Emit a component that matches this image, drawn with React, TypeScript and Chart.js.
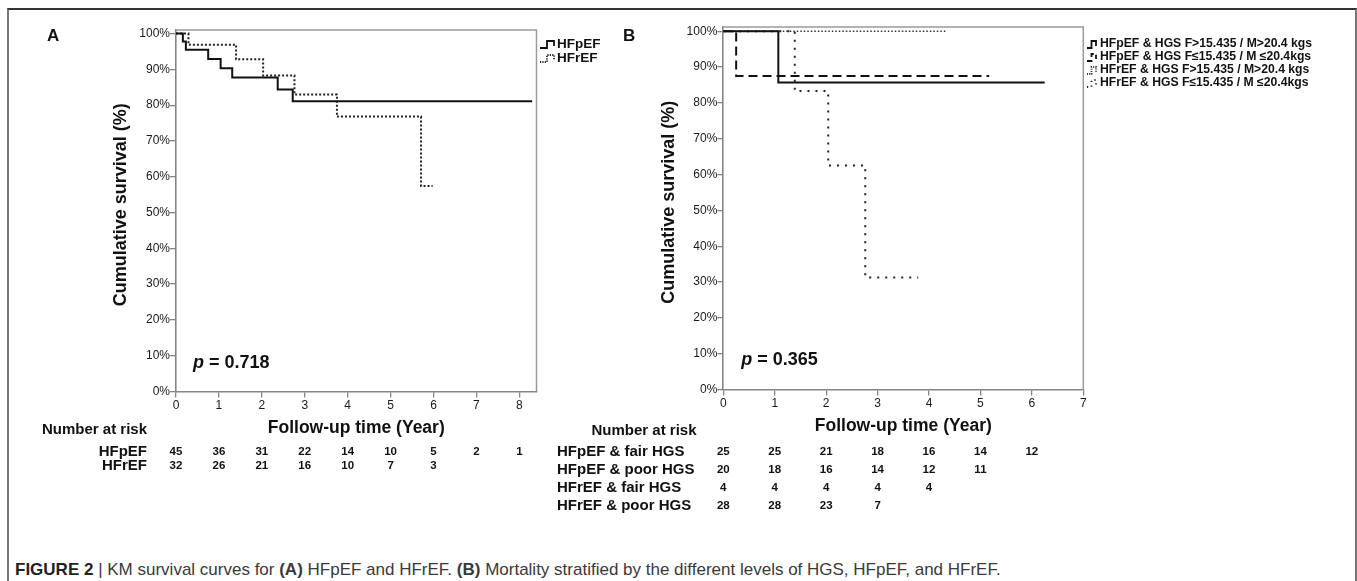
import React, { useEffect, useRef } from "react";
import { Chart, registerables } from "chart.js";

Chart.register(...registerables);

const FONT = "'Liberation Sans', Arial, Helvetica, sans-serif";

// ---------- Panel A data ----------
const aTimeHFpEF = [0, 0.16, 0.23, 0.75, 1.04, 1.31, 2.37, 2.72, 8.3];
const aSurvHFpEF = [100, 97.8, 95.5, 92.9, 90.3, 87.7, 84.4, 81.1, 81.1];
const aTimeHFrEF = [0, 0.29, 1.4, 2.03, 2.76, 3.75, 5.71, 5.98];
const aSurvHFrEF = [100, 96.9, 92.8, 88.3, 83.0, 76.8, 57.4, 57.4];
const aSeriesNames = ["HFpEF", "HFrEF"];
const aXTicks = [0, 1, 2, 3, 4, 5, 6, 7, 8];
const aRiskNames = ["HFpEF", "HFrEF"];
const aRiskHFpEF = [45, 36, 31, 22, 14, 10, 5, 2, 1];
const aRiskHFrEF = [32, 26, 21, 16, 10, 7, 3];
const aPValue = "0.718";

// ---------- Panel B data ----------
const bTimeFairHFpEF = [0, 1.07, 6.25];
const bSurvFairHFpEF = [100, 85.7, 85.7];
const bTimePoorHFpEF = [0, 0.25, 5.17];
const bSurvPoorHFpEF = [100, 87.5, 87.5];
const bTimeFairHFrEF = [0, 4.35];
const bSurvFairHFrEF = [100, 100];
const bTimePoorHFrEF = [0, 1.39, 2.04, 2.76, 3.79];
const bSurvPoorHFrEF = [100, 83.3, 62.5, 31.3, 31.3];
const bSeriesNames = [
  "HFpEF & HGS F>15.435 / M>20.4 kgs",
  "HFpEF & HGS F≤15.435 / M ≤20.4kgs",
  "HFrEF & HGS F>15.435 / M>20.4 kgs",
  "HFrEF & HGS F≤15.435 / M ≤20.4kgs",
];
const bXTicks = [0, 1, 2, 3, 4, 5, 6, 7];
const bRiskNames = ["HFpEF & fair HGS", "HFpEF & poor HGS", "HFrEF & fair HGS", "HFrEF & poor HGS"];
const bRiskFairHFpEF = [25, 25, 21, 18, 16, 14, 12];
const bRiskPoorHFpEF = [20, 18, 16, 14, 12, 11];
const bRiskFairHFrEF = [4, 4, 4, 4, 4];
const bRiskPoorHFrEF = [28, 28, 23, 7];
const bPValue = "0.365";

const yTicks = [0, 10, 20, 30, 40, 50, 60, 70, 80, 90, 100];

const toPoints = (t: number[], s: number[]) => t.map((x, i) => ({ x, y: s[i] }));

type Series = { data: { x: number; y: number }[]; dash: number[]; width: number; color: string };

type Spec = {
  letter: string;
  xMax: number;
  yMax: number;
  xTicks: number[];
  series: Series[];
  names: string[];
  riskNames: string[];
  riskRows: number[][];
  pValue: string;
  L: any;
};

function makeDecor(spec: Spec) {
  return {
    id: "panelDecor" + spec.letter,
    afterDraw(chart: any) {
      const ctx = chart.ctx as CanvasRenderingContext2D;
      const a = chart.chartArea;
      const xs = chart.scales.x;
      const L = spec.L;
      ctx.save();
      // top / right frame
      ctx.strokeStyle = "#9a9a9a";
      ctx.lineWidth = 1.5;
      ctx.beginPath();
      ctx.moveTo(a.left, a.top);
      ctx.lineTo(a.right, a.top);
      ctx.lineTo(a.right, a.bottom);
      ctx.stroke();

      ctx.fillStyle = "#111";
      ctx.textBaseline = "middle";
      // panel letter
      ctx.font = `bold 17px ${FONT}`;
      ctx.textAlign = "left";
      ctx.fillText(spec.letter, L.letterX, L.letterY);

      // y title
      ctx.save();
      ctx.translate(L.yTitleX, (a.top + a.bottom) / 2 + L.yTitleDy);
      ctx.rotate(-Math.PI / 2);
      ctx.textAlign = "center";
      ctx.font = `bold 18px ${FONT}`;
      ctx.fillText("Cumulative survival (%)", 0, 0);
      ctx.restore();

      // x title
      ctx.textAlign = "center";
      ctx.font = `bold 17.5px ${FONT}`;
      ctx.fillText("Follow-up time (Year)", (a.left + a.right) / 2, a.bottom + L.xTitleDy);

      // p value
      ctx.textAlign = "left";
      ctx.font = `italic bold 18px ${FONT}`;
      const px = a.left + L.pDx;
      const py = a.bottom - L.pDy;
      ctx.fillText("p", px, py);
      const pw = ctx.measureText("p ").width;
      ctx.font = `bold 18px ${FONT}`;
      ctx.fillText("= " + spec.pValue, px + pw, py);

      // legend
      ctx.font = `bold ${L.legendFont}px ${FONT}`;
      spec.names.forEach((n, i) => {
        const y = L.legendYs[i];
        const s = spec.series[i];
        const x0 = L.legendSymX;
        const w = L.legendSymW;
        ctx.save();
        ctx.strokeStyle = s.color;
        ctx.lineWidth = 1.8;
        ctx.setLineDash(s.dash.map((d) => Math.max(1, d * 0.6)));
        ctx.beginPath();
        ctx.moveTo(x0, y + 4);
        ctx.lineTo(x0 + w / 2, y + 4);
        ctx.lineTo(x0 + w / 2, y - 3);
        ctx.lineTo(x0 + w, y - 3);
        ctx.lineTo(x0 + w, y + 2);
        ctx.stroke();
        ctx.restore();
        ctx.fillText(n, L.legendTextX, y);
      });

      // number at risk
      ctx.font = `bold 15px ${FONT}`;
      ctx.textAlign = L.nrAlign;
      ctx.fillText("Number at risk", L.nrX, L.nrY);
      spec.riskNames.forEach((n, i) => {
        const y = L.riskYs[i];
        ctx.font = `bold 15px ${FONT}`;
        ctx.textAlign = L.riskAlign;
        ctx.fillText(n, L.riskLabelX, y);
        ctx.font = `bold 11.5px ${FONT}`;
        ctx.textAlign = "center";
        spec.riskRows[i].forEach((v, j) => {
          ctx.fillText(String(v), xs.getPixelForValue(spec.xTicks[j]), y);
        });
      });
      ctx.restore();
    },
  };
}

function buildChart(canvas: HTMLCanvasElement, spec: Spec) {
  const L = spec.L;
  const axisColor = "#858585";
  return new Chart(canvas, {
    type: "line",
    data: {
      datasets: spec.series.map((s, i) => ({
        label: spec.names[i],
        data: s.data,
        stepped: "before" as const,
        borderColor: s.color,
        borderWidth: s.width,
        borderDash: s.dash,
        borderCapStyle: "butt" as const,
        pointRadius: 0,
        fill: false,
        tension: 0,
      })),
    },
    options: {
      animation: false,
      responsive: false,
      devicePixelRatio: 1,
      parsing: false as any,
      layout: { padding: { left: 0, top: L.padTop, right: L.padRight, bottom: 0 } },
      plugins: { legend: { display: false }, tooltip: { enabled: false } },
      scales: {
        x: {
          type: "linear",
          min: 0,
          max: spec.xMax,
          afterBuildTicks: (s: any) => {
            s.ticks = spec.xTicks.map((v) => ({ value: v }));
          },
          afterFit: (s: any) => {
            s.height = L.xAxisH;
          },
          ticks: {
            autoSkip: false,
            maxRotation: 0,
            padding: 1,
            color: "#1a1a1a",
            font: { family: FONT, size: 12 },
          },
          grid: { drawOnChartArea: false, drawTicks: true, tickLength: 6, color: axisColor, lineWidth: 1.3 },
          border: { color: axisColor, width: 1.6 },
        },
        y: {
          type: "linear",
          min: 0,
          max: spec.yMax,
          afterBuildTicks: (s: any) => {
            s.ticks = yTicks.map((v) => ({ value: v }));
          },
          afterFit: (s: any) => {
            s.width = L.yAxisW;
          },
          ticks: {
            padding: 0,
            color: "#1a1a1a",
            font: { family: FONT, size: 12 },
            callback: (v: any) => v + "%",
          },
          grid: { drawOnChartArea: false, drawTicks: true, tickLength: 6, color: axisColor, lineWidth: 1.3 },
          border: { color: axisColor, width: 1.6 },
        },
      },
    },
    plugins: [makeDecor(spec)],
  } as any);
}

const A_LEFT = 0;
const A_W = 650;
const B_LEFT = 540;
const B_W = 817;
const PANEL_H = 530;

export default function App() {
  const refA = useRef<HTMLCanvasElement | null>(null);
  const refB = useRef<HTMLCanvasElement | null>(null);

  useEffect(() => {
    const specA: Spec = {
      letter: "A",
      xMax: 8.4,
      yMax: 101,
      xTicks: aXTicks,
      series: [
        { data: toPoints(aTimeHFpEF, aSurvHFpEF), dash: [], width: 2, color: "#111" },
        { data: toPoints(aTimeHFrEF, aSurvHFrEF), dash: [2, 2], width: 2, color: "#222" },
      ],
      names: aSeriesNames,
      riskNames: aRiskNames,
      riskRows: [aRiskHFpEF, aRiskHFrEF],
      pValue: aPValue,
      L: {
        padTop: 30,
        padRight: A_W - 536.5,
        yAxisW: 176,
        xAxisH: PANEL_H - 391.5,
        letterX: 47,
        letterY: 36,
        yTitleX: 121,
        yTitleDy: -6,
        xTitleDy: 37,
        pDx: 17,
        pDy: 28,
        legendFont: 13.5,
        legendSymX: 540,
        legendSymW: 14,
        legendTextX: 557,
        legendYs: [44, 58],
        nrX: 42,
        nrAlign: "left",
        nrY: 430,
        riskLabelX: 147,
        riskAlign: "right",
        riskYs: [452, 466],
      },
    };
    const specB: Spec = {
      letter: "B",
      xMax: 7,
      yMax: 101.2,
      xTicks: bXTicks,
      series: [
        { data: toPoints(bTimeFairHFpEF, bSurvFairHFpEF), dash: [], width: 2, color: "#111" },
        { data: toPoints(bTimePoorHFpEF, bSurvPoorHFpEF), dash: [9, 5], width: 2, color: "#111" },
        { data: toPoints(bTimeFairHFrEF, bSurvFairHFrEF), dash: [1.5, 2], width: 1.6, color: "#333" },
        { data: toPoints(bTimePoorHFrEF, bSurvPoorHFrEF), dash: [2, 6], width: 2, color: "#222" },
      ],
      names: bSeriesNames,
      riskNames: bRiskNames,
      riskRows: [bRiskFairHFpEF, bRiskPoorHFpEF, bRiskFairHFrEF, bRiskPoorHFrEF],
      pValue: bPValue,
      L: {
        padTop: 27,
        padRight: B_W - (1083.3 - B_LEFT),
        yAxisW: 723.3 - B_LEFT,
        xAxisH: PANEL_H - 389.5,
        letterX: 623 - B_LEFT,
        letterY: 36,
        yTitleX: 669 - B_LEFT,
        yTitleDy: -6,
        xTitleDy: 37,
        pDx: 18,
        pDy: 29,
        legendFont: 12.2,
        legendSymX: 1087 - B_LEFT,
        legendSymW: 9,
        legendTextX: 1100 - B_LEFT,
        legendYs: [44, 57, 70, 83],
        nrX: 644 - B_LEFT,
        nrAlign: "center",
        nrY: 431,
        riskLabelX: 557 - B_LEFT,
        riskAlign: "left",
        riskYs: [452, 470, 488, 506],
      },
    };
    const cA = buildChart(refA.current!, specA);
    const cB = buildChart(refB.current!, specB);
    return () => {
      cA.destroy();
      cB.destroy();
    };
  }, []);

  return (
    <div
      style={{
        position: "fixed",
        left: 0,
        top: 0,
        width: 1357,
        height: 581,
        background: "#fff",
        overflow: "hidden",
        fontFamily: FONT,
      }}
    >
      <div
        style={{
          position: "absolute",
          left: 7,
          top: 8,
          width: 1346,
          height: 640,
          borderTop: "2px solid #333",
          borderLeft: "2px solid #777",
          borderRight: "2px solid #777",
        }}
      />
      <canvas
        ref={refA}
        width={A_W}
        height={PANEL_H}
        style={{ position: "absolute", left: A_LEFT, top: 0, width: A_W, height: PANEL_H }}
      />
      <canvas
        ref={refB}
        width={B_W}
        height={PANEL_H}
        style={{ position: "absolute", left: B_LEFT, top: 0, width: B_W, height: PANEL_H }}
      />
      <div
        style={{
          position: "absolute",
          left: 15,
          top: 560,
          fontSize: 17,
          lineHeight: "20px",
          color: "#3a3a3a",
          whiteSpace: "nowrap",
        }}
      >
        <b style={{ color: "#222" }}>FIGURE 2</b> | KM survival curves for <b>(A)</b> HFpEF and HFrEF. <b>(B)</b>{" "}
        Mortality stratified by the different levels of HGS, HFpEF, and HFrEF.
      </div>
    </div>
  );
}
